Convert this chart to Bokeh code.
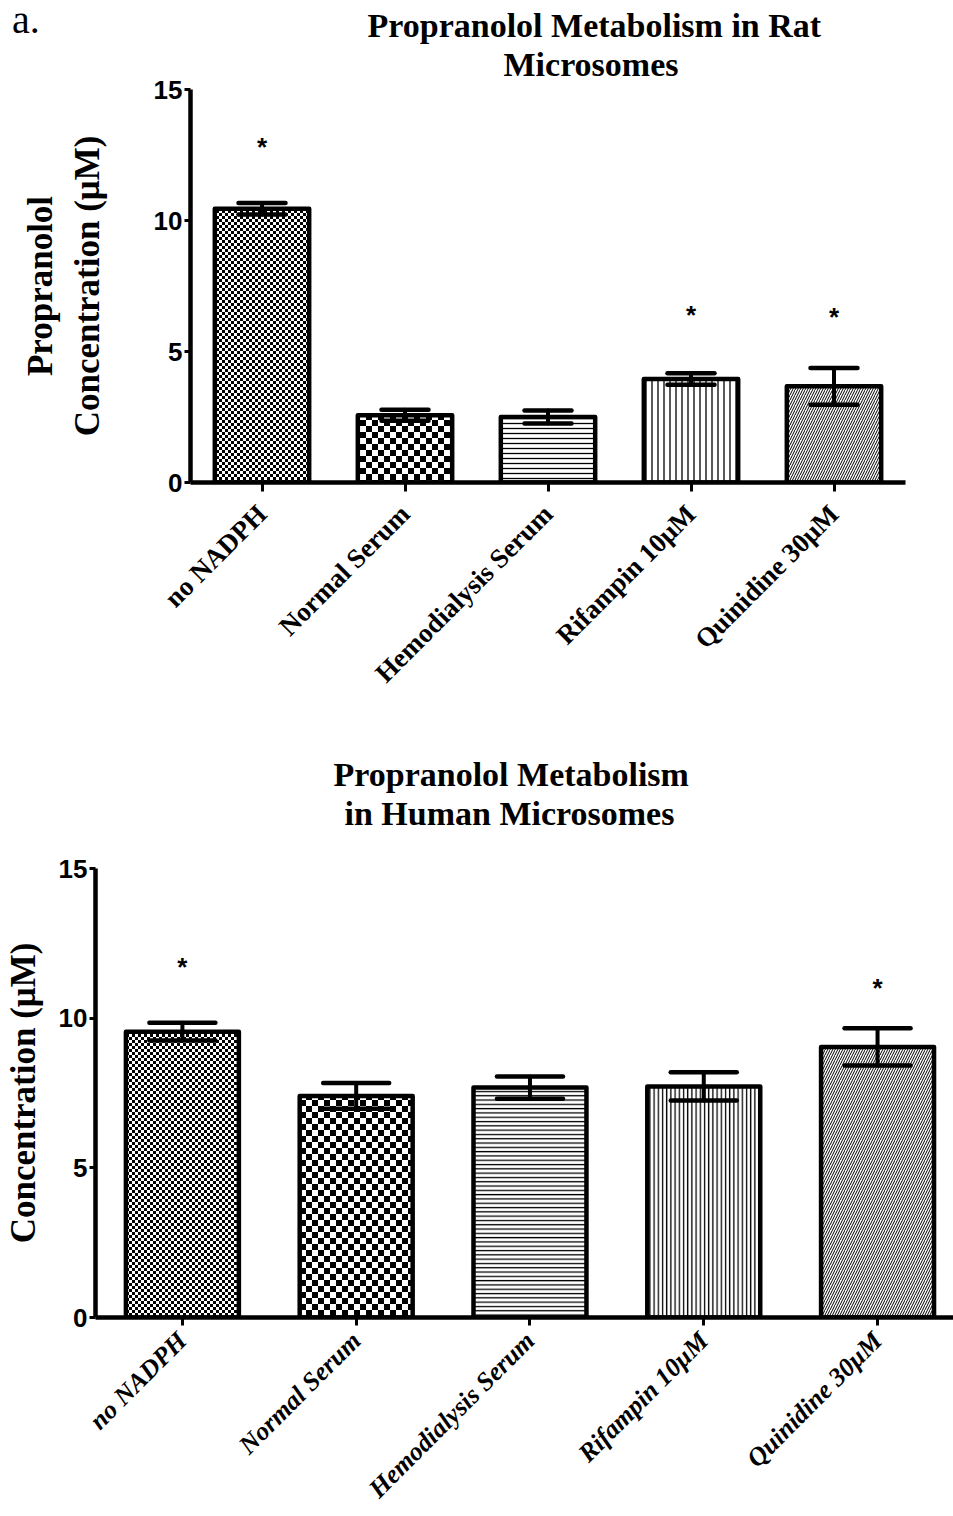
import math
import zlib
import struct
import base64
from bokeh.plotting import figure
from bokeh.models import (ColumnDataSource, Whisker, TeeHead, Title, FixedTicker,
                          Range1d, ImageURLTexture, Div)
from bokeh.embed import file_html
from bokeh.resources import INLINE
from bokeh.core.properties import value

# ---------------- data ----------------
categories = ["no NADPH", "Normal Serum", "Hemodialysis Serum", "Rifampin 10\u03bcM", "Quinidine 30\u03bcM"]

rat_mean = [10.45, 2.57, 2.50, 3.95, 3.67]
rat_sem = [0.22, 0.21, 0.25, 0.22, 0.70]
rat_star_y = [12.8, None, None, 6.4, 6.3]

human_mean = [9.55, 7.40, 7.68, 7.72, 9.04]
human_sem = [0.30, 0.43, 0.37, 0.47, 0.62]
human_star_y = [11.7, None, None, None, 11.0]

y_ticks = [0, 5, 10, 15]

rat_title = ["Propranolol Metabolism in Rat", "Microsomes"]
human_title = ["Propranolol Metabolism", "in Human Microsomes"]
rat_ylabel = "Propranolol\nConcentration (\u03bcM)"
human_ylabel = "Concentration (\u03bcM)"
panel_tag = "a."

SERIF = "Liberation Serif"
SANS = "Liberation Sans"


def checker_url(cell):
    n = 2 * cell
    rows = []
    for yy in range(n):
        row = bytearray([0])
        for xx in range(n):
            black = ((xx // cell) + (yy // cell)) % 2 == 0
            row += bytes([0, 0, 0, 255]) if black else bytes([255, 255, 255, 255])
        rows.append(bytes(row))
    raw = b"".join(rows)

    def chunk(tag, data):
        return (struct.pack(">I", len(data)) + tag + data +
                struct.pack(">I", zlib.crc32(tag + data) & 0xffffffff))

    ihdr = struct.pack(">IIBBBBB", n, n, 8, 6, 0, 0, 0)
    png = (b"\x89PNG\r\n\x1a\n" + chunk(b"IHDR", ihdr) +
           chunk(b"IDAT", zlib.compress(raw)) + chunk(b"IEND", b""))
    return "data:image/png;base64," + base64.b64encode(png).decode()


def bar_styles(line_scale_h, line_scale_v):
    return [
        dict(pat="fine", extra={"fine": ImageURLTexture(url=checker_url(3))}, scale=6, weight=1),
        dict(pat="coarse", extra={"coarse": ImageURLTexture(url=checker_url(6))}, scale=12, weight=1),
        dict(pat="-", extra={}, scale=line_scale_h, weight=1.3),
        dict(pat="|", extra={}, scale=line_scale_v, weight=1.3),
        dict(pat="/", extra={}, scale=5, weight=1.0),
    ]


def make_title(text, offset, standoff, fallback):
    kw = dict(text=text, align="left", offset=offset, text_font=SERIF,
              text_font_style="bold", text_font_size="34px", text_color="black")
    try:
        return Title(standoff=standoff, **kw)
    except Exception:
        return Title(standoff=fallback, **kw)


def make_chart(means, sems, star_y, styles, width, height, borders, x_end,
               bar_w, cap, title, title_offsets, title_standoffs, fallbacks, spacer,
               ylabel, ylabel_standoff, xlabel_style, xlabel_size, xlabel_standoff,
               tick_out):
    idx = list(range(len(categories)))
    p = figure(width=width, height=height,
               x_range=Range1d(-0.5, x_end), y_range=Range1d(0, 15),
               output_backend="svg", toolbar_location=None,
               min_border_left=borders[0], min_border_right=borders[1],
               min_border_top=borders[2], min_border_bottom=borders[3])
    p.outline_line_color = None
    p.xgrid.visible = False
    p.ygrid.visible = False
    p.background_fill_color = "white"
    p.border_fill_color = "white"

    for i in idx:
        st = styles[i]
        bsrc = ColumnDataSource(dict(x=[idx[i]], top=[means[i]], pat=[st["pat"]]))
        p.vbar(x="x", top="top", bottom=0, width=bar_w, source=bsrc,
               fill_color="white", line_color="black", line_width=4.5,
               line_join="round", hatch_color="black", hatch_pattern="pat",
               hatch_scale=st["scale"], hatch_weight=st["weight"],
               hatch_extra=st["extra"])

    src = ColumnDataSource(dict(
        x=idx,
        upper=[m + s for m, s in zip(means, sems)],
        lower=[m - s for m, s in zip(means, sems)],
    ))
    w = Whisker(base="x", upper="upper", lower="lower", source=src,
                line_width=4, line_color="black", line_cap="round", level="annotation",
                upper_head=TeeHead(size=cap, line_width=4.5, line_color="black", line_cap="round"),
                lower_head=TeeHead(size=cap, line_width=4.5, line_color="black", line_cap="round"))
    p.add_layout(w)

    sx = [i for i, s in zip(idx, star_y) if s is not None]
    sy = [s for s in star_y if s is not None]
    p.text(x=sx, y=sy, text=["*"] * len(sx), text_font=value(SANS),
           text_font_size="26px", text_font_style="bold",
           text_align="center", text_baseline="middle", text_color="black")

    # axes
    ax = p.xaxis[0]
    ax.ticker = FixedTicker(ticks=idx)
    ax.major_label_overrides = {i: c for i, c in zip(idx, categories)}
    ax.major_label_orientation = math.pi / 4
    ax.major_label_text_font = SERIF
    ax.major_label_text_font_style = xlabel_style
    ax.major_label_text_font_size = xlabel_size
    ax.major_label_text_color = "black"
    ax.major_label_standoff = xlabel_standoff
    ax.axis_line_width = 4.5
    ax.axis_line_color = "black"
    ax.major_tick_line_width = 3
    ax.major_tick_out = tick_out
    ax.major_tick_in = 0
    ax.minor_tick_line_color = None

    ay = p.yaxis[0]
    ay.ticker = FixedTicker(ticks=y_ticks)
    ay.major_label_text_font = SANS
    ay.major_label_text_font_style = "bold"
    ay.major_label_text_font_size = "26px"
    ay.major_label_text_color = "black"
    ay.major_label_standoff = 2
    ay.axis_line_width = 4.5
    ay.axis_line_color = "black"
    ay.major_tick_line_width = 3
    ay.major_tick_out = 6
    ay.major_tick_in = 0
    ay.minor_tick_line_color = None
    ay.axis_label = ylabel
    ay.axis_label_text_font = SERIF
    ay.axis_label_text_font_style = "bold"
    ay.axis_label_text_font_size = "35px"
    ay.axis_label_text_color = "black"
    ay.axis_label_standoff = ylabel_standoff

    # optional empty spacer between frame and title lines
    if spacer is not None:
        p.add_layout(Title(text=" ", standoff=spacer, text_font_size="10px"), "above")
    # title lines: the first Title added sits closest to the frame
    for k in reversed(range(len(title))):
        p.add_layout(make_title(title[k], title_offsets[k], title_standoffs[k],
                                fallbacks[k]), "above")
    return p


p1 = make_chart(rat_mean, rat_sem, rat_star_y, bar_styles(5, 6),
                953, 740, (190, 48, 89, 258), 4.5, 0.66, 47,
                rat_title, [177, 313], [-14, 14], [0, 9], None, rat_ylabel, 44,
                "bold", "27px", 18, 9)

p2 = make_chart(human_mean, human_sem, human_star_y, bar_styles(4.3, 4.2),
                953, 776, (94, 0, 128, 199), 4.437, 0.65, 66,
                human_title, [238, 249], [0, 0], [0, 0], 24, human_ylabel, 13,
                "bold italic", "26px", 11, 8)

tag = Div(text=panel_tag, styles={"position": "absolute", "left": "7px", "top": "-5px",
                                  "z-index": "10",
                                  "font-family": SERIF, "font-size": "40px",
                                  "line-height": "1", "color": "black"})

open("out.html", "w").write(file_html([p1, p2, tag], INLINE))
